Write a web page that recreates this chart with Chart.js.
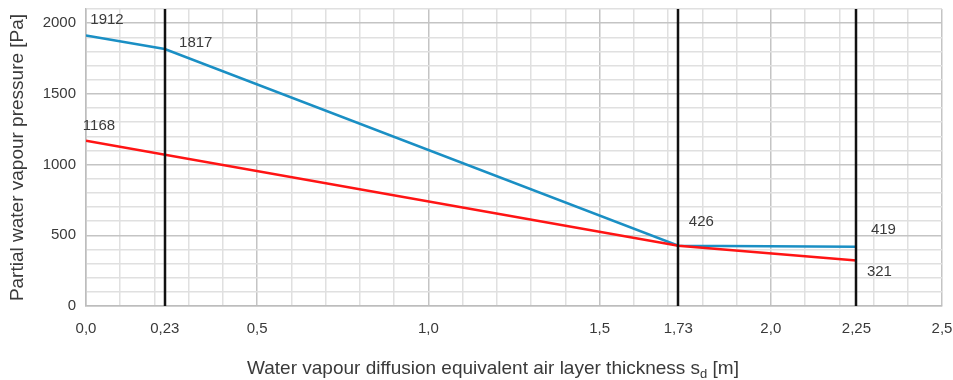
<!DOCTYPE html>
<html>
<head>
<meta charset="utf-8">
<script src="https://cdn.jsdelivr.net/npm/chart.js@4.4.0/dist/chart.umd.min.js"></script>
<style>
  html, body { margin: 0; padding: 0; background: #fff; }
  #wrap { width: 953px; height: 380px; }
</style>
</head>
<body>
<div id="wrap"><canvas id="c" width="953" height="380"></canvas></div>
<script>
// ---- data ----
const blueX = [0, 0.23, 1.73, 2.25];
const blueY = [1912, 1817, 426, 419];
const redX = [0, 1.73, 2.25];
const redY = [1168, 426, 321];
const blueLabels = ['1912', '1817', '426', '419'];
const redLabels = ['1168', '', '321'];
const xTickValues = [0, 0.23, 0.5, 1.0, 1.5, 1.73, 2.0, 2.25, 2.5];
const xTickLabels = ['0,0', '0,23', '0,5', '1,0', '1,5', '1,73', '2,0', '2,25', '2,5'];
const markerLines = [0.23, 1.73, 2.25];
const yTickLabels = [0, 500, 1000, 1500, 2000];

// ---- styles ----
const FONT = 'Liberation Sans';
const TXT = '#3a3a3a';
const blueOffsets = [[21, -16], [31, -6], [23, -24], [27, -17]];
const redOffsets = [[13, -15], [0, 0], [23, 11]];

const toPts = (xs, ys) => xs.map((x, i) => ({ x: x, y: ys[i] }));
const near = (a, b) => Math.abs(a - b) < 1e-6;
const isMarker = v => markerLines.some(m => near(m, v));

const labelPlugin = {
  id: 'labels',
  afterDatasetsDraw(chart) {
    const ctx = chart.ctx;
    const xs = chart.scales.x, ys = chart.scales.y;
    ctx.save();
    ctx.strokeStyle = '#111';
    ctx.lineWidth = 2.5;
    markerLines.forEach(v => {
      const px = Math.round(xs.getPixelForValue(v));
      ctx.beginPath();
      ctx.moveTo(px, chart.chartArea.top);
      ctx.lineTo(px, chart.chartArea.bottom);
      ctx.stroke();
    });
    ctx.restore();

    ctx.save();
    ctx.font = '15px "' + FONT + '"';
    ctx.fillStyle = TXT;
    ctx.textAlign = 'center';
    ctx.textBaseline = 'middle';
    const draw = (xArr, yArr, labels, offs) => {
      labels.forEach((t, i) => {
        if (!t) return;
        const px = xs.getPixelForValue(xArr[i]) + offs[i][0];
        const py = ys.getPixelForValue(yArr[i]) + offs[i][1];
        ctx.fillText(t, px, py);
      });
    };
    draw(blueX, blueY, blueLabels, blueOffsets);
    draw(redX, redY, redLabels, redOffsets);
    ctx.restore();

    ctx.save();
    ctx.fillStyle = TXT;
    ctx.textBaseline = 'alphabetic';
    ctx.textAlign = 'left';
    const main = 'Water vapour diffusion equivalent air layer thickness s';
    const sub = 'd';
    const tail = ' [m]';
    const fMain = '19px "' + FONT + '"';
    const fSub = '13px "' + FONT + '"';
    ctx.font = fMain;
    const w1 = ctx.measureText(main).width;
    const w3 = ctx.measureText(tail).width;
    ctx.font = fSub;
    const w2 = ctx.measureText(sub).width;
    const total = w1 + w2 + w3;
    const x0 = 493 - total / 2;
    const base = 374;
    ctx.font = fMain;
    ctx.fillText(main, x0, base);
    ctx.font = fSub;
    ctx.fillText(sub, x0 + w1, base + 4);
    ctx.font = fMain;
    ctx.fillText(tail, x0 + w1 + w2, base);
    ctx.restore();
  }
};

new Chart(document.getElementById('c'), {
  type: 'scatter',
  data: {
    datasets: [
      {
        label: 'red',
        data: toPts(redX, redY),
        showLine: true,
        borderColor: '#ff1414',
        borderWidth: 2.5,
        pointRadius: 0,
        tension: 0,
        fill: false
      },
      {
        label: 'blue',
        data: toPts(blueX, blueY),
        showLine: true,
        borderColor: '#1a8fc4',
        borderWidth: 2.5,
        pointRadius: 0,
        tension: 0,
        fill: false
      }
    ]
  },
  options: {
    responsive: false,
    animation: false,
    layout: { padding: { top: 9, right: 11, left: 0, bottom: 0 } },
    plugins: {
      legend: { display: false },
      tooltip: { enabled: false }
    },
    scales: {
      x: {
        type: 'linear',
        min: 0,
        max: 2.5,
        afterBuildTicks(scale) {
          const t = [];
          for (let i = 0; i <= 25; i++) t.push(i / 10);
          markerLines.forEach(m => t.push(m));
          t.sort((a, b) => a - b);
          scale.ticks = t.map(v => ({ value: v }));
        },
        afterFit(scale) { scale.height = 74; scale.paddingRight = 0; scale.paddingLeft = 0; },
        ticks: {
          autoSkip: false,
          maxRotation: 0,
          padding: 14,
          color: TXT,
          font: { family: FONT, size: 15 },
          callback(v) {
            const i = xTickValues.findIndex(a => near(a, v));
            return i >= 0 ? xTickLabels[i] : '';
          }
        },
        grid: {
          drawTicks: false,
          color(ctx) {
            const v = ctx.tick ? ctx.tick.value : 0;
            if (isMarker(v)) return 'rgba(0,0,0,0)';
            const r = (v * 2) % 1;
            return near(r, 0) || near(r, 1) ? '#c4c4c4' : '#e0e0e0';
          },
          lineWidth: 1.5
        },
        border: { color: '#bdbdbd', width: 1.5 }
      },
      y: {
        type: 'linear',
        min: 0,
        max: 2100,
        afterFit(scale) { scale.width = 86; scale.paddingTop = 0; scale.paddingBottom = 0; },
        ticks: {
          stepSize: 100,
          autoSkip: false,
          padding: 10,
          color: TXT,
          font: { family: FONT, size: 15 },
          callback(v) { return yTickLabels.includes(v) ? String(v) : ''; }
        },
        grid: {
          drawTicks: false,
          color(ctx) {
            const v = ctx.tick ? ctx.tick.value : 0;
            return v % 500 === 0 ? '#c4c4c4' : '#e0e0e0';
          },
          lineWidth: 1.5
        },
        border: { color: '#bdbdbd', width: 1.5 },
        title: {
          display: true,
          text: 'Partial water vapour pressure [Pa]',
          color: TXT,
          font: { family: FONT, size: 19 },
          padding: { top: 6, bottom: 0 }
        }
      }
    }
  },
  plugins: [labelPlugin]
});
</script>
</body>
</html>
